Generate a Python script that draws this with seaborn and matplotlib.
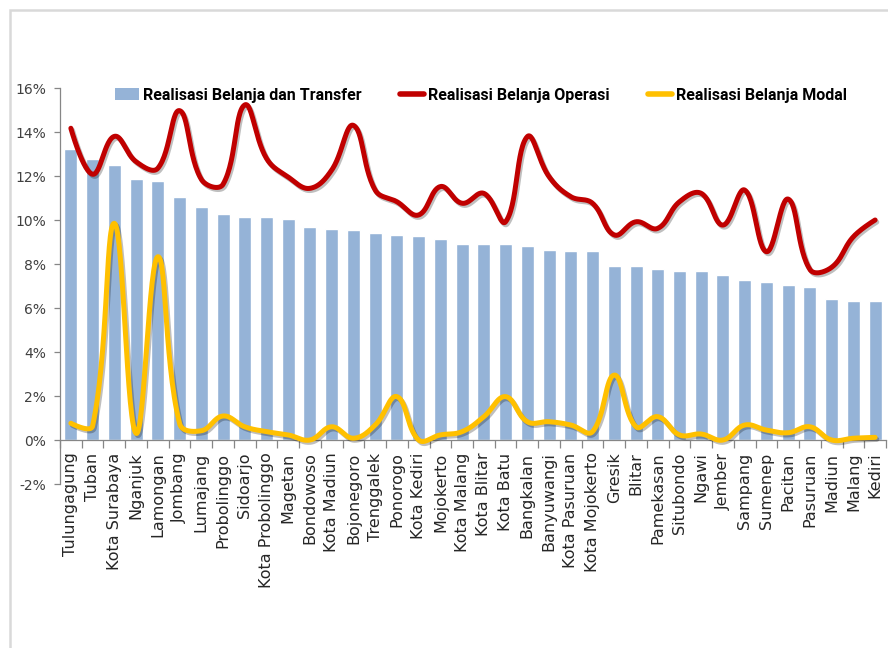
import numpy as np
import pandas as pd
import matplotlib
matplotlib.use("Agg")
import matplotlib.pyplot as plt
import matplotlib.patheffects as pe
from matplotlib.patches import Patch, Rectangle
from matplotlib.lines import Line2D
from matplotlib.ticker import FuncFormatter, FixedLocator
import seaborn as sns

regions = ["Tulungagung", "Tuban", "Kota Surabaya", "Nganjuk", "Lamongan", "Jombang",
           "Lumajang", "Probolinggo", "Sidoarjo", "Kota Probolinggo", "Magetan", "Bondowoso",
           "Kota Madiun", "Bojonegoro", "Trenggalek", "Ponorogo", "Kota Kediri", "Mojokerto",
           "Kota Malang", "Kota Blitar", "Kota Batu", "Bangkalan", "Banyuwangi", "Kota Pasuruan",
           "Kota Mojokerto", "Gresik", "Blitar", "Pamekasan", "Situbondo", "Ngawi", "Jember",
           "Sampang", "Sumenep", "Pacitan", "Pasuruan", "Madiun", "Malang", "Kediri"]

belanja_transfer = [13.24, 12.76, 12.49, 11.88, 11.77, 11.03, 10.60, 10.27, 10.15, 10.12,
                    10.03, 9.70, 9.58, 9.53, 9.39, 9.30, 9.27, 9.15, 8.91, 8.91, 8.90,
                    8.82, 8.64, 8.60, 8.60, 7.91, 7.91, 7.77, 7.67, 7.67, 7.52, 7.29,
                    7.18, 7.06, 6.97, 6.42, 6.30, 6.30]

belanja_operasi = [14.17, 12.08, 13.80, 12.65, 12.35, 14.97, 11.85, 11.62, 15.23, 12.80,
                   11.95, 11.44, 12.27, 14.30, 11.36, 10.83, 10.23, 11.52, 10.76, 11.21,
                   9.92, 13.79, 11.97, 11.06, 10.76, 9.32, 9.92, 9.62, 10.83, 11.21,
                   9.77, 11.36, 8.56, 10.95, 7.75, 7.85, 9.24, 10.00]

belanja_modal = [0.76, 0.64, 9.85, 0.30, 8.33, 0.75, 0.42, 1.09, 0.60, 0.38, 0.23, 0.00,
                 0.60, 0.08, 0.68, 1.97, 0.00, 0.23, 0.38, 1.06, 1.97, 0.83, 0.83, 0.68,
                 0.38, 2.95, 0.60, 1.06, 0.23, 0.27, 0.00, 0.68, 0.45, 0.33, 0.60, 0.00,
                 0.08, 0.12]

y_ticks = [-2, 0, 2, 4, 6, 8, 10, 12, 14, 16]

legend_labels = ["Realisasi Belanja dan Transfer", "Realisasi Belanja Operasi",
                 "Realisasi Belanja Modal"]

BAR = "#95B3D7"
RED = "#C00000"
YEL = "#FFC000"
GRAY = "#868686"

df = pd.DataFrame({"region": regions, "transfer": belanja_transfer,
                   "operasi": belanja_operasi, "modal": belanja_modal})


def smooth(xs, ys, tension=0.4, n=30):
    """Chord-length weighted Bezier rendering of a smoothed line through the points."""
    p = np.column_stack([xs, ys]).astype(float)
    m = len(p)
    d = np.hypot(*(p[1:] - p[:-1]).T)
    cin = np.empty_like(p)
    cout = np.empty_like(p)
    for i in range(m):
        if i == 0 or i == m - 1:
            cin[i] = p[i]
            cout[i] = p[i]
            continue
        v = p[i + 1] - p[i - 1]
        tot = d[i - 1] + d[i]
        cin[i] = p[i] - v * tension * d[i - 1] / tot
        cout[i] = p[i] + v * tension * d[i] / tot
    out = []
    for i in range(m - 1):
        t = np.linspace(0, 1, n, endpoint=(i == m - 2))[:, None]
        b = ((1 - t) ** 3 * p[i] + 3 * (1 - t) ** 2 * t * cout[i]
             + 3 * (1 - t) * t ** 2 * cin[i + 1] + t ** 3 * p[i + 1])
        out.append(b)
    s = np.vstack(out)
    return s[:, 0], s[:, 1]


sns.set_theme(style="white")
plt.rcParams["font.family"] = ["DejaVu Sans"]

fig = plt.figure(figsize=(8.88, 6.48), dpi=100)
ax = fig.add_axes([60 / 888, 1 - 484 / 648, 826 / 888, 396 / 648])

sns.barplot(data=df, x="region", y="transfer", color=BAR, width=0.6,
            saturation=1, ax=ax, zorder=2)

xi = np.arange(len(regions))
shadow = [pe.SimpleLineShadow(offset=(1.2, -1.5), shadow_color="black", alpha=0.25),
          pe.Normal()]
sx, sy = smooth(xi, df["operasi"].values)
ax.plot(sx, sy, color=RED, lw=3.6, solid_capstyle="round", zorder=4, path_effects=shadow)
sx, sy = smooth(xi, df["modal"].values)
ax.plot(sx, sy, color=YEL, lw=3.6, solid_capstyle="round", zorder=4, path_effects=shadow)

ax.set_xlim(-0.5, len(regions) - 0.5)
ax.set_ylim(-2, 16)
ax.set_yticks(y_ticks)
ax.yaxis.set_major_formatter(FuncFormatter(lambda v, _: f"{int(v)}%"))
ax.set_xlabel("")
ax.set_ylabel("")

for s in ["top", "right"]:
    ax.spines[s].set_visible(False)
ax.spines["left"].set_color(GRAY)
ax.spines["left"].set_linewidth(0.9)
ax.spines["bottom"].set_position(("data", 0))
ax.spines["bottom"].set_color(GRAY)
ax.spines["bottom"].set_linewidth(0.9)

ax.tick_params(axis="y", which="major", direction="out", length=4, width=0.9,
               color=GRAY, labelsize=10, labelcolor="#404040", pad=6, left=True)
ax.set_xticks(xi)
ax.set_xticklabels(regions, rotation=90, fontsize=11.5, color="#262626")
ax.tick_params(axis="x", which="major", length=0, pad=9, bottom=True)
ax.xaxis.set_minor_locator(FixedLocator(np.arange(-0.5, len(regions), 1.0)))
ax.tick_params(axis="x", which="minor", direction="out", length=6, width=0.9,
               color=GRAY, bottom=True)
for lab in ax.get_xticklabels():
    lab.set_verticalalignment("top")

handles = [Patch(facecolor=BAR, edgecolor="none"),
           Line2D([0], [0], color=RED, lw=4),
           Line2D([0], [0], color=YEL, lw=4)]
leg = ax.legend(handles, legend_labels, loc="center", bbox_to_anchor=(0.51, 0.982),
                ncol=3, frameon=False, handlelength=1.5,
                handletextpad=0.25, columnspacing=2.4, borderaxespad=0,
                prop={"family": ["Roboto", "DejaVu Sans"], "weight": "bold", "size": 11.5})
for t in leg.get_texts():
    t.set_color("black")

fig.add_artist(Rectangle((10 / 888, -0.2), 1.2, (1 - 10 / 648) + 0.2,
                         transform=fig.transFigure, fill=False,
                         edgecolor="#D9D9D9", lw=1.8, zorder=0))

fig.savefig("out.png", dpi=100, facecolor="white")
